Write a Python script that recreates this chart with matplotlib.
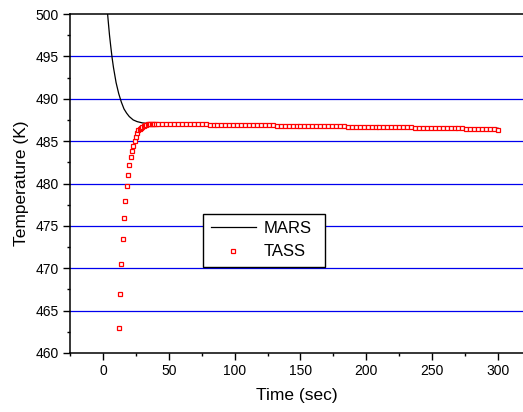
import matplotlib
matplotlib.use('Agg')
import matplotlib.pyplot as plt
from matplotlib.ticker import MultipleLocator

plt.rcParams['font.family'] = ['Liberation Sans', 'DejaVu Sans']

# MARS solution (continuous curve)
mars_t = [1, 2, 3, 4, 5, 6, 7, 8, 10, 12, 14, 16, 18, 20, 23, 26, 30, 35, 40,
          50, 60, 80, 100, 150, 200, 250, 300]
mars_T = [505.6, 503.2, 501.0, 499.2, 497.5, 496.1, 494.8, 493.7, 491.9, 490.6,
          489.6, 488.8, 488.3, 487.9, 487.5, 487.3, 487.15, 487.07, 487.04,
          487.04, 487.03, 486.99, 486.94, 486.82, 486.72, 486.63, 486.52]

# TASS output: 1 s steps during the rise, then every 3 s
tass_t = list(range(12, 41)) + list(range(42, 301, 3))
tass_T = [462.9, 467.0, 470.5, 473.45, 475.93, 477.97, 479.67, 481.04, 482.18,
          483.13, 483.87, 484.46, 484.98, 485.52, 486.0, 486.3, 486.45, 486.6,
          486.7, 486.8, 486.88, 486.94, 486.97, 487.0, 487.01, 487.02, 487.02,
          487.03, 487.03,
          487.03, 487.04, 487.04, 487.04, 487.04, 487.03, 487.03, 487.02, 487.01, 487.00,
          486.99, 486.98, 486.97, 486.96, 486.95, 486.95, 486.94, 486.93, 486.92, 486.92,
          486.91, 486.90, 486.89, 486.89, 486.88, 486.87, 486.87, 486.86, 486.85, 486.85,
          486.84, 486.83, 486.83, 486.82, 486.81, 486.81, 486.80, 486.79, 486.79, 486.78,
          486.77, 486.77, 486.76, 486.75, 486.75, 486.74, 486.73, 486.73, 486.72, 486.71,
          486.71, 486.70, 486.69, 486.69, 486.68, 486.67, 486.67, 486.66, 486.65, 486.64,
          486.64, 486.63, 486.62, 486.62, 486.61, 486.60, 486.59, 486.59, 486.58, 486.57,
          486.56, 486.55, 486.54, 486.53, 486.52, 486.51, 486.50, 486.49, 486.48, 486.47,
          486.46, 486.44, 486.43, 486.41, 486.40, 486.38, 486.37]

fig = plt.figure(figsize=(5.23, 4.12), dpi=100)
ax = fig.add_axes([70 / 523, 1 - 353 / 412, 453 / 523, 339 / 412])

for y in [465, 470, 475, 480, 485, 490, 495]:
    ax.axhline(y, color='#0000ee', lw=0.9, zorder=1)

ax.plot(mars_t, mars_T, color='black', lw=0.9, label='MARS', zorder=2)
ax.plot(tass_t, tass_T, ls='none', marker='s', ms=3.3, mfc='white',
        mec='red', mew=0.9, label='TASS', zorder=3)

ax.set_xlim(-25, 319)
ax.set_ylim(460, 500)
ax.xaxis.set_major_locator(MultipleLocator(50))
ax.xaxis.set_minor_locator(MultipleLocator(25))
ax.yaxis.set_major_locator(MultipleLocator(5))
ax.yaxis.set_minor_locator(MultipleLocator(2.5))
ax.tick_params(which='major', direction='out', length=5, width=1, labelsize=10,
               pad=3, top=False, right=False)
ax.tick_params(which='minor', direction='out', length=2.5, width=1, top=False, right=False)
ax.spines['right'].set_visible(False)
for s in ['left', 'bottom', 'top']:
    ax.spines[s].set_linewidth(1.1)

ax.set_xlabel('Time (sec)', fontsize=12.5, labelpad=7)
ax.set_ylabel('Temperature (K)', fontsize=12.5, labelpad=5)

leg = ax.legend(loc='lower left', bbox_to_anchor=(0.294, 0.254, 0.27, 0.159),
                mode='expand', fontsize=12, handlelength=2.7, borderaxespad=0,
                borderpad=0.45, fancybox=False, framealpha=1, edgecolor='black',
                labelspacing=0.5, handletextpad=0.5)
leg.get_frame().set_linewidth(1.0)

fig.savefig('out.png', dpi=100)
